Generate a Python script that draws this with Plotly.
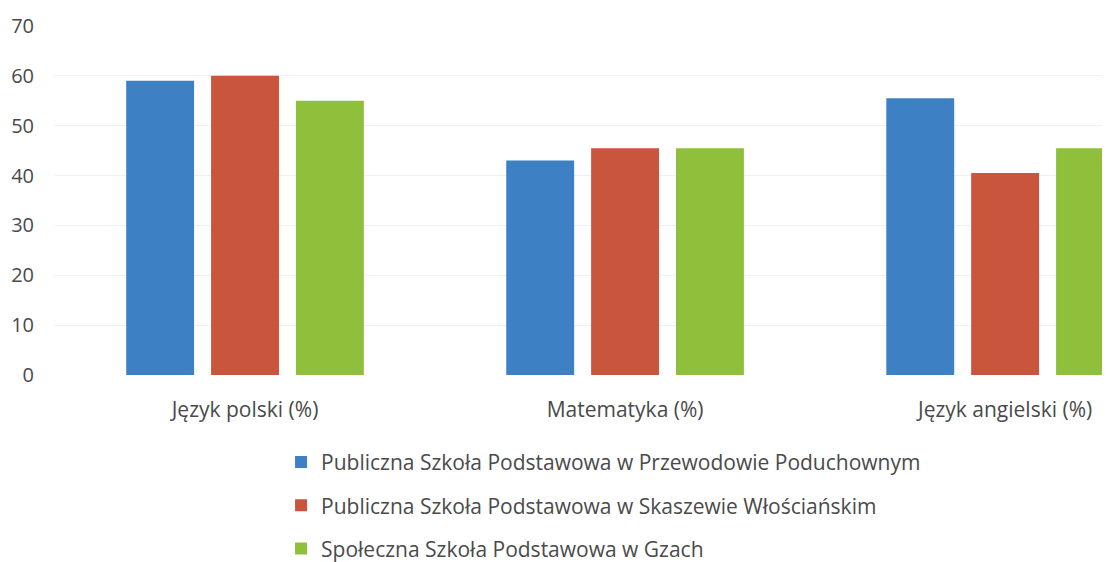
import plotly.graph_objects as go

categories = ["Język polski (%)", "Matematyka (%)", "Język angielski (%)"]
series_names = [
    "Publiczna Szkoła Podstawowa w Przewodowie Poduchownym",
    "Publiczna Szkoła Podstawowa w Skaszewie Włościańskim",
    "Społeczna Szkoła Podstawowa w Gzach",
]
przewodow = [59, 43, 55.5]
skaszewo = [60, 45.5, 40.5]
gzy = [55, 45.5, 45.5]
colors = ["#3d80c3", "#c9553c", "#8fc03c"]
y_ticks = [0, 10, 20, 30, 40, 50, 60, 70]

fig = go.Figure()
for i, (name, vals) in enumerate(zip(series_names, [przewodow, skaszewo, gzy])):
    fig.add_trace(go.Bar(
        x=categories, y=vals, name=name, marker_color=colors[i],
        marker_line_width=0, legendgroup=str(i),
    ))

fig.update_layout(
    width=1110, height=562,
    margin=dict(l=47, r=0, t=18, b=195, autoexpand=False),
    paper_bgcolor="white", plot_bgcolor="white",
    barmode="group", bargap=0.33, bargroupgap=0.2,
    font=dict(family="Open Sans", color="#4a4a4a"),
    xaxis=dict(range=[-0.5, 2.297], showgrid=False, showline=False,
               ticks="", tickfont=dict(size=21, color="#4a4a4a"),
               ticklabelstandoff=20, automargin=False),
    yaxis=dict(range=[0, 70], tickvals=y_ticks, showline=False,
               gridcolor="#f0f0f0", gridwidth=1, zeroline=False,
               tickfont=dict(size=20, color="#4a4a4a"), ticklabelstandoff=20,
               automargin=False),
    legend=dict(orientation="v", xref="container", yref="container",
                x=0.246, xanchor="left", y=0.228, yanchor="top",
                font=dict(size=21, color="#4a4a4a"), tracegroupgap=13,
                itemwidth=30, bgcolor="rgba(0,0,0,0)"),
    showlegend=True,
)

fig.write_html("out.html")
